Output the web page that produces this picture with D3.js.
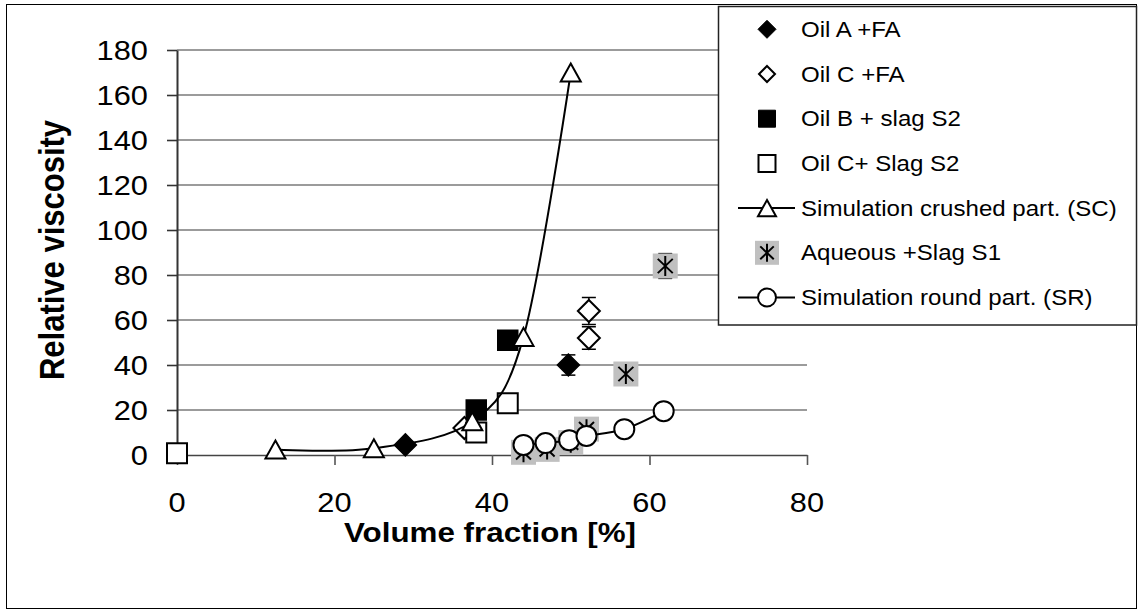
<!DOCTYPE html>
<html>
<head>
<meta charset="utf-8">
<script src="https://cdn.jsdelivr.net/npm/d3@7"></script>
<style>
  body { margin: 0; background: #fff; }
  text { font-family: Arial, "Liberation Sans", sans-serif; fill: #000; }
</style>
</head>
<body>
<svg id="chart" width="1138" height="613"></svg>
<script>
// ---- data ----
var xTicks = [0, 20, 40, 60, 80];
var yTicks = [0, 20, 40, 60, 80, 100, 120, 140, 160, 180];

var oilAFaX = [29, 49.7];
var oilAFaY = [4.5, 40];
var oilAFaErr = [0, 4.5];

var oilCFaX = [36.5, 52.3, 52.3];
var oilCFaY = [12, 52, 64];
var oilCFaErr = [0, 5, 6];

var oilBS2X = [38, 42];
var oilBS2Y = [20, 51];
var oilBS2Err = [0, 3];

var oilCS2X = [0, 38, 42];
var oilCS2Y = [0.8, 10, 23];

var simCrushedX = [12.5, 25, 37.5, 44, 50];
var simCrushedY = [2.4, 3, 15, 52.5, 170];

var aqueousX = [44, 47, 50, 52, 57, 62];
var aqueousY = [1.2, 2.5, 5.5, 11.5, 36, 84];
var aqueousErr = [0, 0, 0, 0, 0, 5.5];

var simRoundX = [44, 46.8, 49.8, 52, 56.8, 61.8];
var simRoundY = [4.5, 5.3, 6.6, 8.5, 11.5, 19.5];

var legendLabels = ["Oil A +FA", "Oil C +FA", "Oil B + slag S2", "Oil C+ Slag S2",
                    "Simulation crushed part. (SC)", "Aqueous +Slag S1", "Simulation round part. (SR)"];

// ---- layout ----
var svg = d3.select("#chart");
var stretch = 1.12;   // the picture's text is a bit wider than plain Arial

var x = d3.scaleLinear().domain([0, 80]).range([177, 807]);
var y = d3.scaleLinear().domain([0, 180]).range([455, 50]);

function zip(xs, ys, errs) {
  return xs.map(function (v, i) {
    return { x: v, y: ys[i], e: errs ? errs[i] : 0 };
  });
}

// marker paths, centred on 0,0
function diamondPath(s) { return "M0," + (-s) + "L" + s + ",0L0," + s + "L" + (-s) + ",0Z"; }
function squarePath(s) { return "M" + (-s) + "," + (-s) + "H" + s + "V" + s + "H" + (-s) + "Z"; }
function trianglePath(s) { return "M0," + (-s * 0.9) + "L" + s + "," + (s * 0.9) + "L" + (-s) + "," + (s * 0.9) + "Z"; }
function starPath(s) {
  var d = s * 0.75;
  return "M0," + (-s) + "V" + s + "M" + (-d) + "," + (-d * 0.95) + "L" + d + "," + (d * 0.95) +
         "M" + d + "," + (-d * 0.95) + "L" + (-d) + "," + (d * 0.95);
}

// outer frame
svg.append("rect")
  .attr("x", 6.5).attr("y", 4.5).attr("width", 1130).attr("height", 604)
  .attr("fill", "#fff").attr("stroke", "#000").attr("stroke-width", 1);

// gridlines
svg.append("g").selectAll("line")
  .data(yTicks.filter(function (d) { return d > 0; }))
  .enter().append("line")
  .attr("x1", x(0)).attr("x2", x(80))
  .attr("y1", function (d) { return y(d); }).attr("y2", function (d) { return y(d); })
  .attr("stroke", "#7a7a7a").attr("stroke-width", 1.4);

// axes (lines and tick marks only, labels drawn below)
var yAxis = d3.axisLeft(y).tickValues(yTicks).tickSize(10).tickSizeOuter(0).tickFormat("");
var xAxis = d3.axisBottom(x).tickValues(xTicks).tickSize(10).tickSizeOuter(0).tickFormat("");

var gy = svg.append("g").attr("transform", "translate(" + x(0) + ",0)").call(yAxis);
var gx = svg.append("g").attr("transform", "translate(0," + y(0) + ")").call(xAxis);
gy.select(".domain").attr("stroke", "#333").attr("stroke-width", 2);
gx.select(".domain").attr("stroke", "#444").attr("stroke-width", 1.6);
gy.selectAll(".tick line").attr("stroke", "#333").attr("stroke-width", 1.6);
gx.selectAll(".tick line").attr("stroke", "#555").attr("stroke-width", 1.6);

svg.append("g").selectAll("text")
  .data(yTicks).enter().append("text")
  .attr("transform", function (d) { return "translate(148," + y(d) + ") scale(" + stretch + ",1)"; })
  .attr("dy", "0.36em")
  .attr("text-anchor", "end")
  .style("font-size", "27.5px")
  .text(function (d) { return d; });

svg.append("g").selectAll("text")
  .data(xTicks).enter().append("text")
  .attr("transform", function (d) { return "translate(" + x(d) + ",511.5) scale(" + stretch + ",1)"; })
  .attr("text-anchor", "middle")
  .style("font-size", "27.5px")
  .text(function (d) { return d; });

// axis titles
svg.append("text")
  .attr("transform", "translate(64,250) rotate(-90) scale(1," + stretch + ")")
  .attr("text-anchor", "middle")
  .style("font-size", "31px").style("font-weight", "bold")
  .text("Relative viscosity");

svg.append("text")
  .attr("transform", "translate(490,542) scale(" + stretch + ",1)")
  .attr("text-anchor", "middle")
  .style("font-size", "28px").style("font-weight", "bold")
  .text("Volume fraction [%]");

// ---- series ----
var plot = svg.append("g");

function drawErrors(data) {
  var g = plot.append("g").attr("stroke", "#000").attr("stroke-width", 1.5);
  data.filter(function (d) { return d.e > 0; }).forEach(function (d) {
    var cx = x(d.x);
    g.append("line").attr("x1", cx).attr("x2", cx).attr("y1", y(d.y - d.e)).attr("y2", y(d.y + d.e));
    g.append("line").attr("x1", cx - 7).attr("x2", cx + 7).attr("y1", y(d.y - d.e)).attr("y2", y(d.y - d.e));
    g.append("line").attr("x1", cx - 7).attr("x2", cx + 7).attr("y1", y(d.y + d.e)).attr("y2", y(d.y + d.e));
  });
}

function drawMarkers(data, path, fill, strokeW) {
  plot.append("g").selectAll("path")
    .data(data).enter().append("path")
    .attr("transform", function (d) { return "translate(" + x(d.x) + "," + y(d.y) + ")"; })
    .attr("d", path)
    .attr("fill", fill)
    .attr("stroke", "#000")
    .attr("stroke-width", strokeW);
}

function drawCurve(data) {
  var line = d3.line()
    .x(function (d) { return x(d.x); })
    .y(function (d) { return y(d.y); })
    .curve(d3.curveCardinal.tension(0));
  plot.append("path").datum(data)
    .attr("d", line)
    .attr("fill", "none").attr("stroke", "#000").attr("stroke-width", 2);
}

var oilAFa = zip(oilAFaX, oilAFaY, oilAFaErr);
var oilCFa = zip(oilCFaX, oilCFaY, oilCFaErr);
var oilBS2 = zip(oilBS2X, oilBS2Y, oilBS2Err);
var oilCS2 = zip(oilCS2X, oilCS2Y);
var simCrushed = zip(simCrushedX, simCrushedY);
var aqueous = zip(aqueousX, aqueousY, aqueousErr);
var simRound = zip(simRoundX, simRoundY);

drawErrors(oilAFa);
drawMarkers(oilAFa, diamondPath(11), "#000", 1.5);

drawErrors(oilCFa);
drawMarkers(oilCFa, diamondPath(11), "#fff", 2);

drawErrors(oilBS2);
drawMarkers(oilBS2, squarePath(10), "#000", 1.5);

drawMarkers(oilCS2, squarePath(10), "#fff", 2);

drawCurve(simCrushed);
drawMarkers(simCrushed, trianglePath(10), "#fff", 2);

drawErrors(aqueous);
drawMarkers(aqueous, squarePath(12.5), "#c0c0c0", 0);
drawMarkers(aqueous, starPath(10), "none", 2);

drawCurve(simRound);
plot.append("g").selectAll("circle")
  .data(simRound).enter().append("circle")
  .attr("cx", function (d) { return x(d.x); })
  .attr("cy", function (d) { return y(d.y); })
  .attr("r", 10)
  .attr("fill", "#fff").attr("stroke", "#000").attr("stroke-width", 2);

// ---- legend ----
var legend = svg.append("g");
legend.append("rect")
  .attr("x", 718.5).attr("y", 6.5).attr("width", 418).attr("height", 318.5)
  .attr("fill", "#fff").attr("stroke", "#222").attr("stroke-width", 1.5);

var rowY = function (i) { return 29.3 + i * 44.7; };
var mx = 767;

function legendMarker(i, path, fill, strokeW) {
  legend.append("path")
    .attr("transform", "translate(" + mx + "," + rowY(i) + ")")
    .attr("d", path).attr("fill", fill)
    .attr("stroke", "#000").attr("stroke-width", strokeW);
}
function legendLine(i) {
  legend.append("line")
    .attr("x1", 738).attr("x2", 795).attr("y1", rowY(i)).attr("y2", rowY(i))
    .attr("stroke", "#000").attr("stroke-width", 2);
}

legendMarker(0, diamondPath(9), "#000", 1);
legendMarker(1, diamondPath(8), "#fff", 2);
legendMarker(2, squarePath(8.5), "#000", 1);
legendMarker(3, squarePath(8.5), "#fff", 2);
legendLine(4);
legendMarker(4, trianglePath(9), "#fff", 2);
legendMarker(5, squarePath(12), "#c0c0c0", 0);
legendMarker(5, starPath(9), "none", 2);
legendLine(6);
legend.append("circle").attr("cx", mx).attr("cy", rowY(6)).attr("r", 9)
  .attr("fill", "#fff").attr("stroke", "#000").attr("stroke-width", 2);

legend.selectAll("text.lab")
  .data(legendLabels).enter().append("text")
  .attr("class", "lab")
  .attr("transform", function (d, i) { return "translate(801," + (rowY(i) + 7.6) + ") scale(" + stretch + ",1)"; })
  .style("font-size", "21.5px")
  .text(function (d) { return d; });
</script>
</body>
</html>
